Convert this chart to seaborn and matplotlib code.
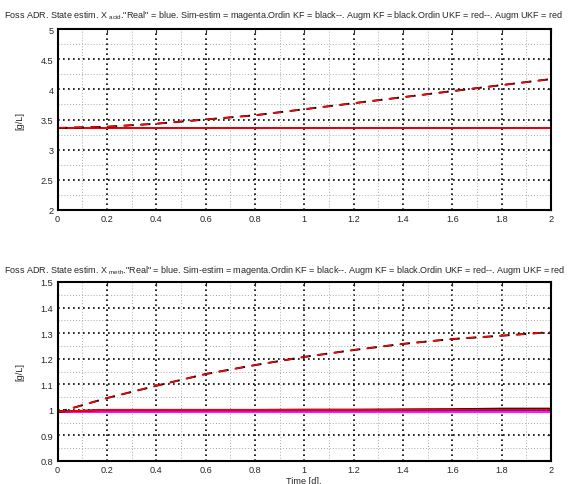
import matplotlib
matplotlib.use("Agg")
import matplotlib.pyplot as plt
import matplotlib.ticker as mticker
import pandas as pd
import seaborn as sns

# time axis [d]
t = [0.0, 0.2, 0.4, 0.6, 0.8, 1.0, 1.2, 1.4, 1.6, 1.8, 2.0]

# X_acid estimates [g/L]
acid_real = [3.36, 3.36, 3.36, 3.36, 3.36, 3.36, 3.36, 3.36, 3.36, 3.36, 3.36]
acid_sim = [3.358, 3.358, 3.358, 3.358, 3.358, 3.358, 3.358, 3.358, 3.358, 3.358, 3.358]
acid_ordin_kf = [3.36, 3.38, 3.43, 3.50, 3.57, 3.67, 3.77, 3.87, 3.97, 4.07, 4.17]
acid_augm_kf = [3.365, 3.365, 3.365, 3.365, 3.365, 3.365, 3.365, 3.365, 3.365, 3.365, 3.365]
acid_ordin_ukf = [3.36, 3.38, 3.43, 3.50, 3.57, 3.67, 3.77, 3.87, 3.97, 4.07, 4.17]
acid_augm_ukf = [3.365, 3.365, 3.365, 3.365, 3.365, 3.365, 3.365, 3.365, 3.365, 3.365, 3.365]

# X_meth estimates [g/L]
meth_real = [0.993, 0.994, 0.994, 0.995, 0.995, 0.996, 0.996, 0.997, 0.998, 0.999, 1.0]
meth_sim = [0.991, 0.991, 0.991, 0.991, 0.991, 0.991, 0.991, 0.991, 0.991, 0.991, 0.991]
meth_ordin_kf = [0.99, 1.046, 1.094, 1.14, 1.175, 1.207, 1.234, 1.258, 1.277, 1.29, 1.304]
meth_augm_kf = [0.993, 1.0, 1.0, 1.0, 1.0, 1.001, 1.001, 1.002, 1.003, 1.005, 1.005]
meth_ordin_ukf = [0.99, 1.046, 1.094, 1.14, 1.175, 1.207, 1.234, 1.258, 1.277, 1.29, 1.304]
meth_augm_ukf = [0.993, 1.0, 1.0, 1.0, 1.0, 1.0, 1.0, 1.0, 1.001, 1.001, 1.001]

sns.set_theme(style="white")
plt.rcParams["font.family"] = ["Liberation Sans", "DejaVu Sans"]
plt.rcParams["mathtext.fontset"] = "custom"
plt.rcParams["mathtext.rm"] = "Liberation Sans"
plt.rcParams["mathtext.it"] = "Liberation Sans"
plt.rcParams["xtick.direction"] = "in"
plt.rcParams["ytick.direction"] = "in"

FS = 6.6
TFS = 6.45
title_tail = '."Real" = blue. Sim-estim = magenta.Ordin KF = black--. Augm KF = black.Ordin UKF = red--. Augm UKF = red'

fig = plt.figure(figsize=(5.69, 4.85), dpi=100)
ax1 = fig.add_axes([57.5 / 569, 1 - 211 / 485, 493.5 / 569, 181 / 485])
ax2 = fig.add_axes([57.5 / 569, 1 - 462 / 485, 493.5 / 569, 179 / 485])


def draw(ax, real, sim, okf, akf, oukf, aukf):
    df = pd.DataFrame({"t": t, "real": real, "sim": sim, "okf": okf,
                       "akf": akf, "oukf": oukf, "aukf": aukf})
    sns.lineplot(data=df, x="t", y="real", ax=ax, color="blue", lw=1.3)
    sns.lineplot(data=df, x="t", y="sim", ax=ax, color="magenta", lw=1.3)
    sns.lineplot(data=df, x="t", y="akf", ax=ax, color="black", lw=1.3)
    sns.lineplot(data=df, x="t", y="aukf", ax=ax, color="red", lw=1.3)
    # same dash length in points for both, red drawn on top
    sns.lineplot(data=df, x="t", y="okf", ax=ax, color="black", lw=1.4,
                 dashes=False, linestyle=(0, (7.0 / 1.4, 5.0 / 1.4)))
    sns.lineplot(data=df, x="t", y="oukf", ax=ax, color="red", lw=1.1,
                 dashes=False, linestyle=(0.5, (6.4 / 1.1, 5.6 / 1.1)))


def style(ax, ylo, yhi, ymaj, ymin):
    ax.set_xlim(0, 2)
    ax.set_ylim(ylo, yhi)
    ax.xaxis.set_major_locator(mticker.MultipleLocator(0.2))
    ax.xaxis.set_minor_locator(mticker.MultipleLocator(0.1))
    ax.yaxis.set_major_locator(mticker.MultipleLocator(ymaj))
    ax.yaxis.set_minor_locator(mticker.MultipleLocator(ymin))
    ax.xaxis.set_major_formatter(mticker.FormatStrFormatter("%g"))
    ax.yaxis.set_major_formatter(mticker.FormatStrFormatter("%g"))
    ax.grid(which="major", color="black", linestyle=(0, (1, 2)), lw=1.2)
    ax.grid(which="minor", color="#aaaaaa", linestyle=(0, (1, 2)), lw=0.7)
    ax.set_axisbelow(True)
    ax.tick_params(which="both", labelsize=FS, length=3, width=0.8,
                   top=True, right=True, pad=3)
    ax.tick_params(which="minor", length=0)
    for s in ax.spines.values():
        s.set_linewidth(1.5)
        s.set_color("black")
    ax.set_xlabel("")
    ax.set_ylabel("[g/L]", fontsize=FS, labelpad=12)


draw(ax1, acid_real, acid_sim, acid_ordin_kf, acid_augm_kf, acid_ordin_ukf, acid_augm_ukf)
style(ax1, 2, 5, 0.5, 0.25)
draw(ax2, meth_real, meth_sim, meth_ordin_kf, meth_augm_kf, meth_ordin_ukf, meth_augm_ukf)
style(ax2, 0.8, 1.5, 0.1, 0.05)
ax2.set_xlabel("Time [d].", fontsize=FS, labelpad=1)

fig.text(4 / 569, 1 - 18 / 485, r"Foss ADR. State estim. X $_{\mathrm{acid}}$" + title_tail,
         fontsize=TFS, ha="left", va="baseline")
fig.text(4 / 569, 1 - 273 / 485, r"Foss ADR. State estim. X $_{\mathrm{meth}}$" + title_tail,
         fontsize=TFS, ha="left", va="baseline")

fig.savefig("out.png", dpi=100)
